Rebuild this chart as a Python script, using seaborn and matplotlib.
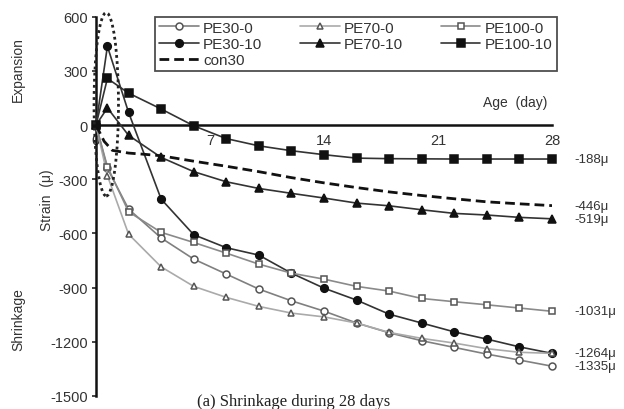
import matplotlib
matplotlib.use('Agg')
import matplotlib.pyplot as plt
from matplotlib.patches import Ellipse
import seaborn as sns

# data (strain in micro-strain, age in days)
days = [0, 0.7, 2, 4, 6, 8, 10, 12, 14, 16, 18, 20, 22, 24, 26, 28]
pe30_0 = [0, -240, -465, -625, -742, -825, -908, -973, -1030, -1096, -1150, -1194, -1231, -1268, -1301, -1335]
pe70_0 = [0, -280, -604, -785, -893, -954, -1004, -1041, -1062, -1096, -1148, -1181, -1207, -1238, -1258, -1264]
pe100_0 = [0, -230, -480, -594, -650, -709, -770, -820, -853, -893, -919, -960, -978, -995, -1013, -1031]
pe30_10 = [0, 436, 70, -410, -607, -679, -720, -820, -903, -969, -1047, -1096, -1145, -1185, -1228, -1264]
pe70_10 = [0, 95, -57, -179, -258, -314, -351, -378, -404, -432, -447, -469, -489, -498, -511, -519]
pe100_10 = [0, 258, 177, 89, -4, -75, -115, -142, -164, -183, -186, -187, -188, -188, -188, -188]

con30_days = [0, 0.5, 1, 2, 3, 4, 5, 6, 8, 10, 12, 14, 16, 18, 20, 22, 24, 26, 28]
con30 = [0, -90, -140, -155, -162, -170, -185, -200, -228, -258, -291, -320, -346, -370, -390, -408, -425, -436, -446]

end_labels = ['-188\u03bc', '-446\u03bc', '-519\u03bc', '-1031\u03bc', '-1264\u03bc', '-1335\u03bc']
end_values = [-188, -446, -519, -1031, -1264, -1335]

sns.set_style('white')
plt.rcParams['font.family'] = ['Liberation Sans', 'DejaVu Sans']
plt.rcParams['axes.unicode_minus'] = False
txt = '#333333'

fig = plt.figure(figsize=(6.24, 4.10), dpi=100)
ax = fig.add_axes([96 / 624, 1 - 397 / 410, 456 / 624, 379.3 / 410])

series = [
    ('PE30-0', pe30_0, 'o', '#808080', 'white', '#555555', 5),
    ('PE30-10', pe30_10, 'o', '#333333', '#111111', '#111111', 5.5),
    ('PE70-0', pe70_0, '^', '#aaaaaa', 'white', '#555555', 5),
    ('PE70-10', pe70_10, '^', '#333333', '#111111', '#111111', 5.5),
    ('PE100-0', pe100_0, 's', '#8a8a8a', 'white', '#555555', 5),
    ('PE100-10', pe100_10, 's', '#333333', '#111111', '#111111', 6),
]
for name, vals, mk, lc, fc, ec, ms in series:
    sns.lineplot(x=days, y=vals, ax=ax, color=lc, marker=mk, markersize=ms,
                 markerfacecolor=fc, markeredgecolor=ec, markeredgewidth=1.1,
                 linewidth=1.2, label=name, clip_on=False, zorder=3)
sns.lineplot(x=con30_days, y=con30, ax=ax, color='#111111', linewidth=2,
             label='con30', zorder=3)
ax.lines[-1].set_dashes([3.5, 1.8])

for lab, v in zip(end_labels, end_values):
    ax.annotate(lab, xy=(28, v), xytext=(16, 0), textcoords='offset points',
                va='center', ha='left', fontsize=9.5, color=txt, annotation_clip=False)

ell = Ellipse((0.63, 115), 1.5, 1015, fill=False, linestyle=(0, (1, 1.2)),
              linewidth=2, edgecolor='#222222', clip_on=False, zorder=4)
ax.add_patch(ell)

ax.set_xlim(0, 28)
ax.set_ylim(-1500, 600)
ax.set_xticks([0, 7, 14, 21, 28])
ax.set_yticks(range(-1500, 601, 300))
ax.spines['top'].set_visible(False)
ax.spines['right'].set_visible(False)
ax.spines['bottom'].set_position(('data', 0))
for s in ['left', 'bottom']:
    ax.spines[s].set_linewidth(1.8)
    ax.spines[s].set_color('#111111')
    ax.spines[s].set_zorder(2)
ax.tick_params(axis='x', direction='in', length=4, width=1.2, labelsize=10.5,
               labelcolor=txt, pad=6)
ax.tick_params(axis='y', direction='out', length=3, width=1.2, labelsize=10.5,
               labelcolor=txt, pad=3, left=True)
ax.set_xlabel('')
ax.set_ylabel('')

ax.text(27.7, 130, 'Age  (day)', ha='right', va='center', fontsize=10, color=txt)

fig.text(18 / 624, 1 - 70 / 410, 'Expansion', rotation=90, ha='center', va='center',
         fontsize=10, color=txt)
fig.text(18 / 624, 1 - 320 / 410, 'Shrinkage', rotation=90, ha='center', va='center',
         fontsize=10, color=txt)
fig.text(47 / 624, 1 - 200 / 410, 'Strain  (\u03bc)', rotation=90, ha='center', va='center',
         fontsize=10, color=txt)

# caption sits at the very bottom edge, as in the reference
fig.text(197 / 624, 1 - 406.5 / 410, '(a) Shrinkage during 28 days', ha='left', va='baseline',
         fontsize=12, family='Liberation Serif', color='#222222')

h, l = ax.get_legend_handles_labels()
order = ['PE30-0', 'PE30-10', 'con30', 'PE70-0', 'PE70-10', 'PE100-0', 'PE100-10']
hl = dict(zip(l, h))
leg = ax.legend([hl[k] for k in order], order, ncol=3, loc='upper left',
                bbox_to_anchor=(155 / 624, 1 - 18 / 410), bbox_transform=fig.transFigure,
                frameon=True, fancybox=False, edgecolor='#222222', fontsize=11,
                handlelength=2.6, handletextpad=0.3, columnspacing=2.45,
                labelspacing=0.15, borderpad=0.25, borderaxespad=0)
leg.get_frame().set_linewidth(1.3)
for t in leg.get_texts():
    t.set_color(txt)

fig.savefig('out.png', dpi=100)
